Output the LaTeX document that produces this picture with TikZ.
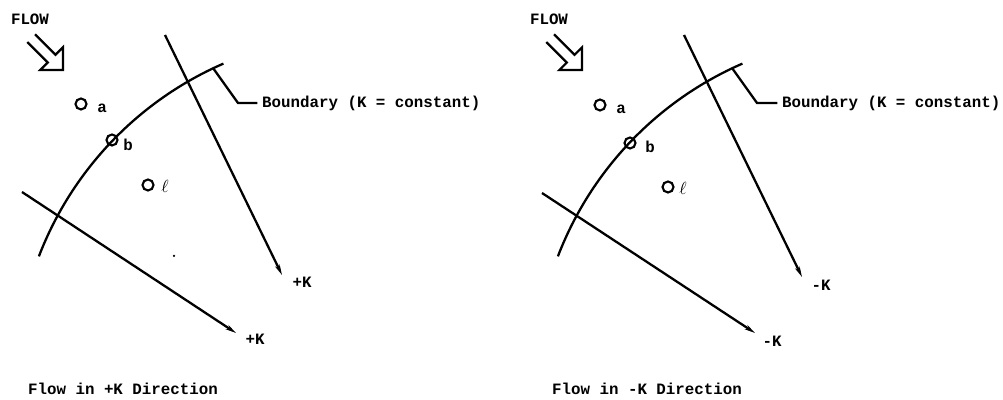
\documentclass[tikz,border=0pt]{standalone}
\usepackage{fontspec}
\setmainfont{Liberation Mono}
\usetikzlibrary{arrows.meta,positioning}

\begin{document}
\begin{tikzpicture}[
  pnt/.style={circle, draw, line width=1.2pt, minimum size=0.22cm, inner sep=0pt},
  lbl/.style={font=\bfseries\fontsize{9}{10}\selectfont, inner sep=1pt},
  ell/.style={font=\fontsize{10}{10}\selectfont, inner sep=1pt},
  kline/.style={line width=1.3pt, -{Stealth[length=6pt,width=2.8pt]}},
  bline/.style={line width=1.3pt},
  hollow/.style={line width=1.3pt, line join=miter}
]
\useasboundingbox (0,0) rectangle (20.06,8);

% left panel: flow in +K direction
\node[lbl] (flow) at (0.60,7.62) {FLOW};
\draw[hollow, shift={(1.26,6.60)}, rotate=-45]
  (-0.9,0.11) -- (-0.32,0.11) -- (-0.32,0.32) -- (0,0)
  -- (-0.32,-0.32) -- (-0.32,-0.11) -- (-0.9,-0.11);

% boundary arc and its leader
\draw[bline] (0.778,2.873) arc[start angle=159, end angle=113.5, radius=6.9];
\node[lbl, anchor=west] (bnd) at (5.20,5.94) {Boundary (K = constant)};
\coordinate (lead) at (4.26,6.64);
\draw[bline, shorten >=1.5pt] (lead) -- (4.76,5.94) -- (bnd.west);

% K lines
\coordinate (k1a) at (3.30,7.30);
\coordinate (k1b) at (5.64,2.50);
\node[lbl] (kp1) at (6.04,2.36) {+K};
\draw[kline] (k1a) -- (k1b);
\coordinate (k2a) at (0.44,4.16);
\coordinate (k2b) at (4.72,1.34);
\node[lbl] (kp2) at (5.10,1.22) {+K};
\draw[kline] (k2a) -- (k2b);

% points
\node[pnt] (a) at (1.62,5.92) {};
\node[lbl] (alab) at (2.04,5.84) {a};
\node[pnt] (b) at (2.24,5.20) {};
\node[lbl] (blab) at (2.56,5.10) {b};
\node[pnt] (l) at (2.96,4.30) {};
\node[ell] (llab) at (3.30,4.28) {$\ell$};
\fill (3.48,2.88) circle (0.025);

\node[lbl] (cap) at (2.46,0.22) {Flow in +K Direction};

% right panel: flow in -K direction
\begin{scope}[xshift=10.38cm]
\node[lbl] (flow2) at (0.60,7.62) {FLOW};
\draw[hollow, shift={(1.26,6.60)}, rotate=-45]
  (-0.9,0.11) -- (-0.32,0.11) -- (-0.32,0.32) -- (0,0)
  -- (-0.32,-0.32) -- (-0.32,-0.11) -- (-0.9,-0.11);

\draw[bline] (0.778,2.873) arc[start angle=159, end angle=113.5, radius=6.9];
\node[lbl, anchor=west] (bnd2) at (5.22,5.94) {Boundary (K = constant)};
\coordinate (lead2) at (4.26,6.64);
\draw[bline, shorten >=1.5pt] (lead2) -- (4.76,5.94) -- (bnd2.west);

\coordinate (m1a) at (3.30,7.30);
\coordinate (m1b) at (5.66,2.46);
\node[lbl] (km1) at (6.04,2.30) {-K};
\draw[kline] (m1a) -- (m1b);
\coordinate (m2a) at (0.46,4.14);
\coordinate (m2b) at (4.72,1.34);
\node[lbl] (km2) at (5.06,1.18) {-K};
\draw[kline] (m2a) -- (m2b);

\node[pnt] (a2) at (1.62,5.90) {};
\node[lbl] (alab2) at (2.04,5.82) {a};
\node[pnt] (b2) at (2.22,5.14) {};
\node[lbl] (blab2) at (2.62,5.06) {b};
\node[pnt] (l2) at (2.98,4.26) {};
\node[ell] (llab2) at (3.28,4.24) {$\ell$};

\node[lbl] (cap2) at (2.56,0.22) {Flow in -K Direction};
\end{scope}
\end{tikzpicture}
\end{document}
